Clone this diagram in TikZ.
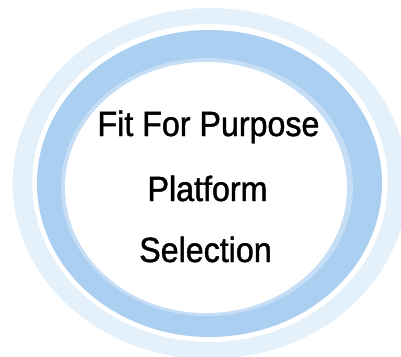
\documentclass[tikz,border=0pt]{standalone}
\usepackage{fontspec}
\setmainfont{Liberation Sans}
\newfontfamily\labelfont[FakeStretch=0.92,FakeBold=1.3]{Liberation Sans}
\definecolor{ringlight}{HTML}{E4F0FA}
\definecolor{ringmid}{HTML}{ABCFF0}
\definecolor{ringband}{HTML}{C6DEF5}
\begin{document}
\begin{tikzpicture}[x=1pt,y=-1pt,
  label/.style={anchor=base,inner sep=0pt,font=\labelfont\fontsize{35}{40}\selectfont,text=black}]
\useasboundingbox (0,0) rectangle (401,356);
\begin{scope}
\clip (0,0) rectangle (401,356);
\fill[ringlight] (210,183.5) ellipse [x radius=197.3, y radius=175.5];
\fill[white] (210,183) ellipse [x radius=177.7, y radius=159];
\fill[ringmid] (209.5,183.5) ellipse [x radius=172.5, y radius=153.5];
\fill[ringband] (207,187) ellipse [x radius=146, y radius=129];
\fill[white] (206,187.5) ellipse [x radius=141, y radius=125.5];
\end{scope}
\node[label] (l1) at (208.5,136) {Fit For Purpose};
\node[label] (l2) at (207.5,201) {Platform};
\node[label] (l3) at (205.5,262) {Selection};
\end{tikzpicture}
\end{document}
